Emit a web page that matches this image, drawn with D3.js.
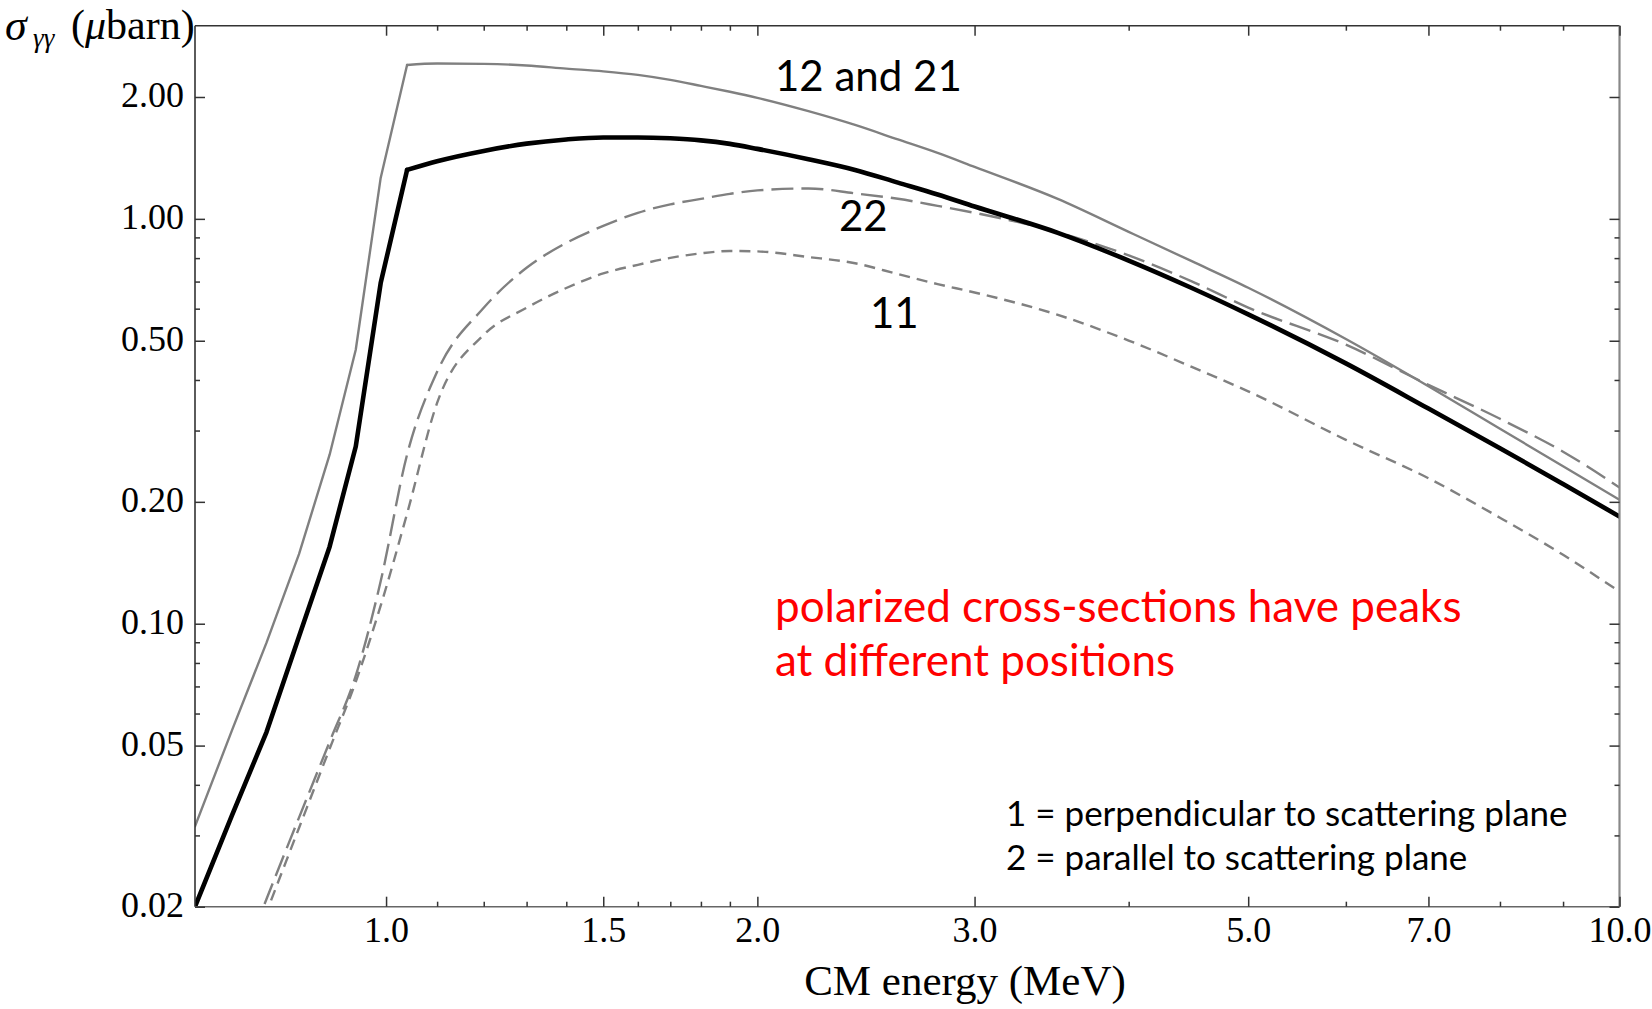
<!DOCTYPE html>
<html>
<head>
<meta charset="utf-8">
<script src="https://cdnjs.cloudflare.com/ajax/libs/d3/7.8.5/d3.min.js"></script>
<style>
  html, body { margin: 0; padding: 0; background: #fff; }
  svg { display: block; }
</style>
</head>
<body>
<svg id="chart" width="1652" height="1009"></svg>
<script>
// ---------------- DATA ----------------
const energy = [0.70, 0.75, 0.80, 0.85, 0.90, 0.945, 0.99, 1.04, 1.1, 1.2, 1.3, 1.4, 1.5, 1.6, 1.7, 1.8, 1.9, 2.0, 2.2, 2.4, 2.6, 2.8, 3.0, 3.5, 4.0, 4.5, 5.0, 6.0, 7.0, 8.0, 9.0, 10.0];
// "12 and 21" (thin gray solid)
const sigma12 = [0.0316, 0.0545, 0.0898, 0.1485, 0.2615, 0.475, 1.262, 2.40, 2.42, 2.414, 2.393, 2.35, 2.314, 2.268, 2.204, 2.13, 2.06, 1.99, 1.845, 1.706, 1.571, 1.455, 1.344, 1.122, 0.929, 0.786, 0.676, 0.505, 0.386, 0.303, 0.245, 0.2024];
// unpolarized (thick black)
const sigmaAvg = [0.0200, 0.0336, 0.0540, 0.0930, 0.155, 0.274, 0.694, 1.321, 1.388, 1.472, 1.534, 1.571, 1.589, 1.589, 1.581, 1.563, 1.532, 1.489, 1.404, 1.321, 1.229, 1.149, 1.073, 0.925, 0.789, 0.675, 0.581, 0.4396, 0.340, 0.2714, 0.2213, 0.184];
// "22" (long dashes)
const sigma22 = [null, 0.0126, 0.0209, 0.0332, 0.0511, 0.0744, 0.1273, 0.2615, 0.419, 0.603, 0.757, 0.872, 0.961, 1.035, 1.086, 1.12, 1.153, 1.176, 1.189, 1.156, 1.121, 1.077, 1.035, 0.928, 0.812, 0.701, 0.6036, 0.489, 0.389, 0.3208, 0.266, 0.217];
// "11" (short dashes)
const sigma11 = [null, 0.0117, 0.0194, 0.0313, 0.0491, 0.0719, 0.1108, 0.187, 0.351, 0.517, 0.603, 0.675, 0.733, 0.770, 0.801, 0.822, 0.833, 0.831, 0.805, 0.777, 0.7305, 0.690, 0.658, 0.580, 0.5005, 0.431, 0.375, 0.2846, 0.2287, 0.1827, 0.148, 0.120];

const xMajorTicks = [1.0, 1.5, 2.0, 3.0, 5.0, 7.0, 10.0];
const xMajorLabels = ["1.0", "1.5", "2.0", "3.0", "5.0", "7.0", "10.0"];
const xMinorTicks = [1.1, 1.2, 1.3, 1.4, 1.6, 1.7, 1.8, 1.9, 4.0, 6.0, 8.0, 9.0];
const yMajorTicks = [0.02, 0.05, 0.10, 0.20, 0.50, 1.00, 2.00];
const yMajorLabels = ["0.02", "0.05", "0.10", "0.20", "0.50", "1.00", "2.00"];
const yMinorTicks = [0.03, 0.04, 0.06, 0.07, 0.08, 0.09, 0.3, 0.4, 0.6, 0.7, 0.8, 0.9];

const xDomain = [0.70, 10.0];
const yDomain = [0.02, 3.0];
const threshold = 1.04; // end of coarse (kinked) sampling of the solid curves

// ---------------- LAYOUT ----------------
const L = 195, R = 1619.5, T = 25.7, B = 906.7;
const svg = d3.select("#chart");

const x = d3.scaleLog().domain(xDomain).range([L, R]);
const y = d3.scaleLog().domain(yDomain).range([B, T]);

const serif = "'Liberation Serif', 'Times New Roman', serif";
const sans = "Lato, 'Open Sans', sans-serif";

svg.append("defs").append("clipPath").attr("id", "plotclip")
  .append("rect").attr("x", L).attr("y", T).attr("width", R - L).attr("height", B - T);

// ---------------- CURVES ----------------
function series(vals) {
  return energy.map((e, i) => ({ e: e, v: vals[i] })).filter(d => d.v != null);
}
const lineLin = d3.line().x(d => x(d.e)).y(d => y(d.v)).curve(d3.curveLinear);
const lineSmooth = d3.line().x(d => x(d.e)).y(d => y(d.v)).curve(d3.curveMonotoneX);

const curves = svg.append("g").attr("clip-path", "url(#plotclip)")
  .attr("fill", "none").attr("stroke-linejoin", "round");

function drawSolid(vals, color, width) {
  const s = series(vals);
  curves.append("path").datum(s.filter(d => d.e <= threshold))
    .attr("d", lineLin).attr("stroke", color).attr("stroke-width", width)
    .attr("stroke-linecap", "round");
  curves.append("path").datum(s.filter(d => d.e >= threshold))
    .attr("d", lineSmooth).attr("stroke", color).attr("stroke-width", width)
    .attr("stroke-linecap", "round");
}

curves.append("path").datum(series(sigma11))
  .attr("d", lineSmooth)
  .attr("stroke", "#808080").attr("stroke-width", 2.4)
  .attr("stroke-dasharray", "11,7");
curves.append("path").datum(series(sigma22))
  .attr("d", lineSmooth)
  .attr("stroke", "#808080").attr("stroke-width", 2.4)
  .attr("stroke-dasharray", "22,8");
drawSolid(sigma12, "#808080", 2.4);
drawSolid(sigmaAvg, "#000", 4.6);

// ---------------- FRAME ----------------
const frame = svg.append("g");
frame.append("line").attr("x1", L).attr("x2", R).attr("y1", T).attr("y2", T).attr("stroke", "#333").attr("stroke-width", 1.6);
frame.append("line").attr("x1", L).attr("x2", L).attr("y1", T).attr("y2", B).attr("stroke", "#333").attr("stroke-width", 1.6);
frame.append("line").attr("x1", L).attr("x2", R).attr("y1", B).attr("y2", B).attr("stroke", "#666").attr("stroke-width", 1.6);
frame.append("line").attr("x1", R).attr("x2", R).attr("y1", T).attr("y2", B).attr("stroke", "#888").attr("stroke-width", 2.2);

// ---------------- AXES ----------------
function styleTicks(g) {
  g.select(".domain").remove();
  g.selectAll(".tick line").attr("stroke", "#333").attr("stroke-width", 1.5);
}
// bottom
const gxb = svg.append("g").attr("transform", `translate(0,${B})`)
  .call(d3.axisBottom(x).tickValues(xMajorTicks).tickSize(-10).tickSizeOuter(0)
    .tickFormat((d, i) => xMajorLabels[i]));
styleTicks(gxb);
gxb.selectAll(".tick text").attr("y", 35).attr("dy", null)
  .attr("font-family", serif).attr("font-size", 36).attr("fill", "#000");
svg.append("g").attr("transform", `translate(0,${B})`)
  .call(d3.axisBottom(x).tickValues(xMinorTicks).tickSize(-5).tickSizeOuter(0).tickFormat(""))
  .call(styleTicks);
// top
svg.append("g").attr("transform", `translate(0,${T})`)
  .call(d3.axisTop(x).tickValues(xMajorTicks).tickSize(-10).tickSizeOuter(0).tickFormat(""))
  .call(styleTicks);
svg.append("g").attr("transform", `translate(0,${T})`)
  .call(d3.axisTop(x).tickValues(xMinorTicks).tickSize(-5).tickSizeOuter(0).tickFormat(""))
  .call(styleTicks);
// left
const gyl = svg.append("g").attr("transform", `translate(${L},0)`)
  .call(d3.axisLeft(y).tickValues(yMajorTicks).tickSize(-10).tickSizeOuter(0)
    .tickFormat((d, i) => yMajorLabels[i]));
styleTicks(gyl);
gyl.selectAll(".tick text").attr("x", -11).attr("dy", null).attr("y", 10)
  .attr("font-family", serif).attr("font-size", 36).attr("fill", "#000");
svg.append("g").attr("transform", `translate(${L},0)`)
  .call(d3.axisLeft(y).tickValues(yMinorTicks).tickSize(-5).tickSizeOuter(0).tickFormat(""))
  .call(styleTicks);
// right
svg.append("g").attr("transform", `translate(${R},0)`)
  .call(d3.axisRight(y).tickValues(yMajorTicks).tickSize(-10).tickSizeOuter(0).tickFormat(""))
  .call(styleTicks);
svg.append("g").attr("transform", `translate(${R},0)`)
  .call(d3.axisRight(y).tickValues(yMinorTicks).tickSize(-5).tickSizeOuter(0).tickFormat(""))
  .call(styleTicks);

// ---------------- TITLES ----------------
svg.append("text")
  .attr("x", 965).attr("y", 995)
  .attr("text-anchor", "middle")
  .attr("font-family", serif).attr("font-size", 43).attr("fill", "#000")
  .text("CM energy (MeV)");

const yTitle = svg.append("g").attr("font-family", serif).attr("fill", "#000");
yTitle.append("text").attr("x", 5).attr("y", 40).attr("font-size", 44).attr("font-style", "italic").text("σ");
yTitle.append("text").attr("x", 33).attr("y", 47).attr("font-size", 27).attr("font-style", "italic").text("γγ");
const unit = yTitle.append("text").attr("x", 71).attr("y", 39).attr("font-size", 42);
unit.append("tspan").text("(");
unit.append("tspan").attr("font-style", "italic").text("μ");
unit.append("tspan").text("barn)");

// ---------------- ANNOTATIONS ----------------
const ann = svg.append("g").attr("font-family", sans).attr("fill", "#000");
ann.append("text").attr("x", 775).attr("y", 91).attr("font-size", 42).text("12 and 21");
ann.append("text").attr("x", 839).attr("y", 231).attr("font-size", 42).text("22");
ann.append("text").attr("x", 870).attr("y", 328).attr("font-size", 42).text("11");

const red = svg.append("g").attr("font-family", sans).attr("fill", "#ff0000").attr("font-size", 44);
red.append("text").attr("x", 775).attr("y", 622).text("polarized cross-sections have peaks");
red.append("text").attr("x", 775).attr("y", 676).text("at different positions");

const leg = svg.append("g").attr("font-family", sans).attr("fill", "#000").attr("font-size", 35);
leg.append("text").attr("x", 1006).attr("y", 826).text("1 = perpendicular to scattering plane");
leg.append("text").attr("x", 1006).attr("y", 870).text("2 = parallel to scattering plane");
</script>
</body>
</html>
